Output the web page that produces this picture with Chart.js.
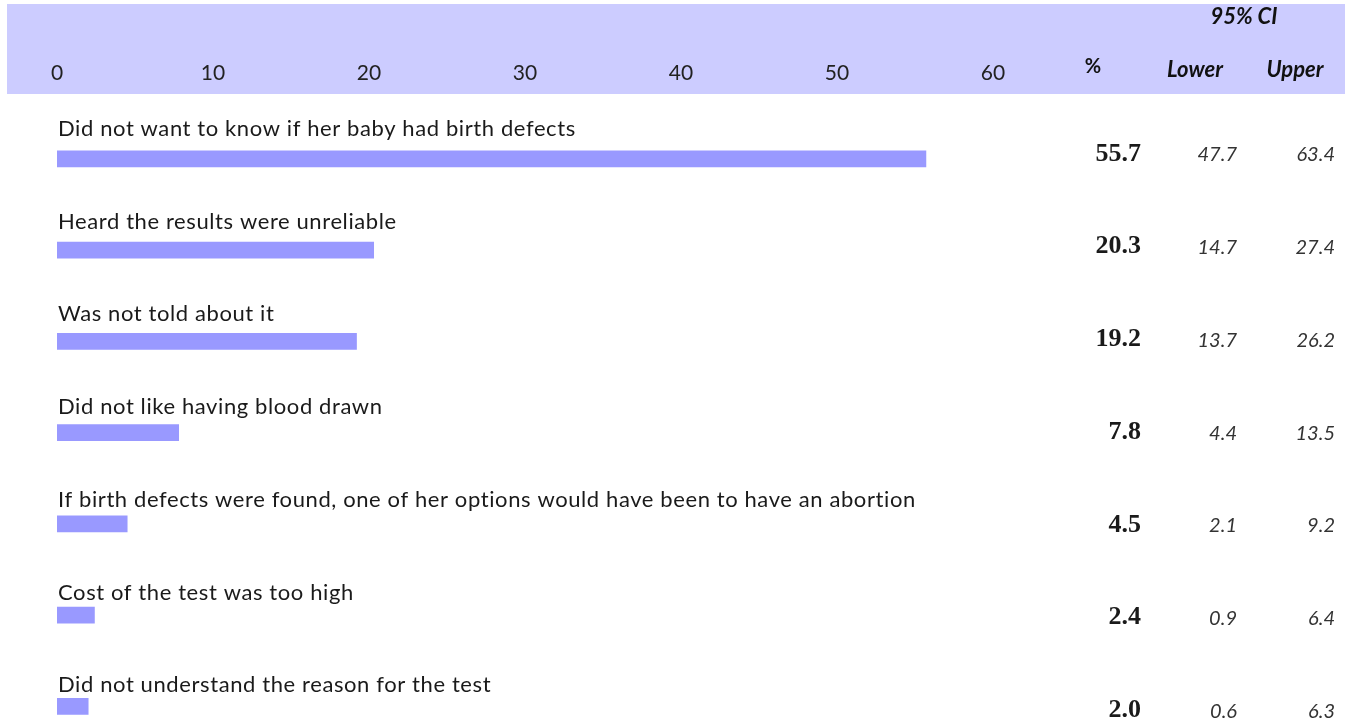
<!DOCTYPE html>
<html>
<head>
<meta charset="utf-8">
<script src="https://cdn.jsdelivr.net/npm/chart.js@4"></script>
<style>
  html, body { margin: 0; padding: 0; background: #fff; overflow: hidden; }
  #wrap { position: absolute; left: 0; top: 0; width: 1350px; height: 752px; }
</style>
</head>
<body>
<div id="wrap"><canvas id="reasons"></canvas></div>
<script>
// reasons for not having the test, with percent and 95% CI
const reasons = [
  'Did not want to know if her baby had birth defects',
  'Heard the results were unreliable',
  'Was not told about it',
  'Did not like having blood drawn',
  'If birth defects were found, one of her options would have been to have an abortion',
  'Cost of the test was too high',
  'Did not understand the reason for the test'
];
const percent = [55.7, 20.3, 19.2, 7.8, 4.5, 2.4, 2.0];
const ciLower = [47.7, 14.7, 13.7, 4.4, 2.1, 0.9, 0.6];
const ciUpper = [63.4, 27.4, 26.2, 13.5, 9.2, 6.4, 6.3];

// axis range and step
const axisMin = 0;
const axisMax = 60;
const axisStep = 10;

const sansFont = 'Lato, "Open Sans", sans-serif';
const serifFont = '"Liberation Serif", "DejaVu Serif", serif';

// header band + text columns drawn around the bars
const tablePlugin = {
  id: 'tablePlugin',
  beforeDraw(chart) {
    const ctx = chart.ctx;
    ctx.save();
    ctx.fillStyle = '#ccccff';
    ctx.fillRect(7, 4, 1338, 90);

    ctx.fillStyle = '#111';
    ctx.textBaseline = 'middle';
    ctx.textAlign = 'center';
    ctx.font = 'italic bold 22px ' + sansFont;
    ctx.fillText('95% CI', 1244, 17);
    ctx.fillText('Lower', 1195, 70);
    ctx.fillText('Upper', 1295, 70);
    ctx.font = 'bold 20px ' + sansFont;
    ctx.fillText('%', 1093, 67);
    ctx.restore();
  },
  afterDatasetsDraw(chart) {
    const ctx = chart.ctx;
    const bars = chart.getDatasetMeta(0).data;
    ctx.save();
    ctx.textBaseline = 'middle';
    bars.forEach((bar, i) => {
      // text rows run on a slightly wider pitch than the bars
      const drift = i * 1.5;

      ctx.fillStyle = '#1a1a1a';
      ctx.textAlign = 'left';
      ctx.font = '22px ' + sansFont;
      ctx.letterSpacing = '0.6px';
      ctx.fillText(reasons[i], 58, bar.y - 30 + drift);
      ctx.letterSpacing = '0px';

      ctx.textAlign = 'right';
      ctx.font = 'bold 26px ' + serifFont;
      ctx.fillText(percent[i].toFixed(1), 1141, bar.y - 5 + drift);

      ctx.fillStyle = '#333';
      ctx.font = 'italic 20px ' + sansFont;
      ctx.fillText(ciLower[i].toFixed(1), 1237, bar.y - 4 + drift);
      ctx.fillText(ciUpper[i].toFixed(1), 1335, bar.y - 4 + drift);
    });
    ctx.restore();
  }
};

new Chart(document.getElementById('reasons'), {
  type: 'bar',
  data: {
    labels: reasons,
    datasets: [{
      data: percent,
      backgroundColor: '#9999ff',
      borderWidth: 0,
      barThickness: 16
    }]
  },
  options: {
    indexAxis: 'y',
    responsive: true,
    maintainAspectRatio: false,
    animation: false,
    layout: { padding: { left: 57, right: 357, top: 34, bottom: 0 } },
    plugins: {
      legend: { display: false },
      tooltip: { enabled: false }
    },
    scales: {
      x: {
        position: 'top',
        min: axisMin,
        max: axisMax,
        grid: { display: false, drawTicks: false },
        border: { display: false },
        ticks: {
          stepSize: axisStep,
          padding: 27,
          color: '#222',
          font: { family: sansFont, size: 21 }
        }
      },
      y: {
        display: false
      }
    }
  },
  plugins: [tablePlugin]
});
</script>
</body>
</html>
